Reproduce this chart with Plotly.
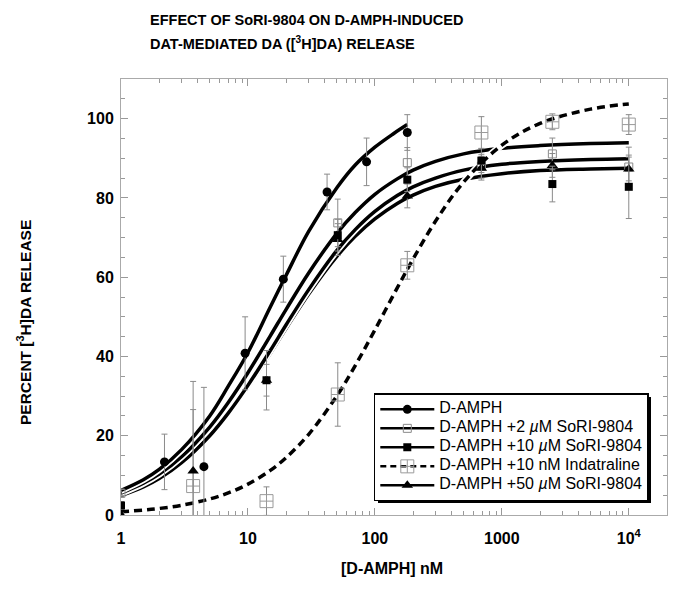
import plotly.graph_objects as go

# ---------------- data ----------------
damph_x = [2.2, 4.5, 9.5, 19, 42, 86, 180]
damph_y = [13.4, 12.2, 40.8, 59.5, 81.5, 89.1, 96.5]
damph_err = [7, 20, 9.2, 5.8, 4.5, 6, 4.5]

sori2_x = [1, 51, 180, 690, 2500, 10000]
sori2_y = [5.5, 73.7, 88.9, 88.0, 91.1, 87.8]
sori2_err = [1, 6, 3.8, 3, 4, 5]

sori10_x = [1, 14, 51, 180, 690, 2500, 10000]
sori10_y = [2.4, 34, 70.6, 84.6, 89.4, 83.5, 82.8]
sori10_err = [1, 4, 4, 3, 3, 4.5, 8]

sori50_x = [1, 3.7, 14, 51, 180, 690, 2500, 10000]
sori50_y = [0, 11.1, 34, 69.5, 80.5, 87.5, 88.2, 87.3]
sori50_err = [0.5, 15.5, 7.5, 4, 3, 3, 3, 3]

indat_x = [3.7, 14, 51, 180, 690, 2500, 10000]
indat_y = [7.3, 3.5, 30.4, 63, 96.5, 99.2, 98.5]
indat_err = [26.4, 3.6, 8, 3.5, 4, 2, 2.5]

# fitted curves
damph_curve_x = [1, 1.5, 2, 3, 5, 7, 10, 15, 20, 30, 50, 70, 100, 140, 180]
damph_curve_y = [6.2, 8.9, 11.5, 16.5, 25, 32.5, 41, 52.5, 60.5, 71.5, 82.5, 88.3, 92.8, 96.2, 98.5]

curve_x = [1, 1.5, 2, 3, 5, 7, 10, 15, 20, 30, 50, 70, 100, 150, 200, 300, 500, 1000, 2000, 5000, 10000]
sori2_curve = [5.5, 8.0, 10.3, 14.7, 22.2, 28.4, 35.9, 45.2, 51.9, 61.0, 71.0, 76.3, 80.9, 84.8, 87.0, 89.2, 91.1, 92.5, 93.2, 93.7, 93.9]
sori10_curve = [4.9, 7.1, 9.2, 13.2, 20.0, 25.7, 32.7, 41.5, 48.0, 56.8, 66.7, 72.0, 76.6, 80.6, 82.8, 85.0, 87.0, 88.5, 89.2, 89.7, 89.9]
sori50_curve = [4.8, 7.0, 9.1, 13.0, 19.7, 25.3, 32.2, 40.8, 47.1, 55.7, 65.2, 70.3, 74.7, 78.6, 80.7, 82.9, 84.7, 86.1, 86.9, 87.3, 87.5]
indat_curve = [0.8, 1.25, 1.65, 2.46, 4.04, 5.57, 7.78, 11.25, 14.48, 20.3, 30.0, 37.7, 46.7, 57.3, 64.6, 74.1, 84.0, 93.3, 98.8, 102.4, 103.7]

x_tickvals = [1, 10, 100, 1000, 10000]
x_ticktext = ["1", "10", "100", "1000", "10<sup>4</sup>"]
y_tickvals = [0, 20, 40, 60, 80, 100]

names = ["D-AMPH",
         "D-AMPH +2 <i>µ</i>M SoRI-9804",
         "D-AMPH +10 <i>µ</i>M SoRI-9804",
         "D-AMPH +10 nM Indatraline",
         "D-AMPH +50 <i>µ</i>M SoRI-9804"]

FONT = "Liberation Sans, Arial, Helvetica, sans-serif"
LW = 3.5

fig = go.Figure()

def curve(x, y, dash="solid"):
    fig.add_trace(go.Scatter(x=x, y=y, mode="lines", line=dict(color="white", width=LW + 3.5, shape="spline"),
                             showlegend=False, hoverinfo="skip"))
    fig.add_trace(go.Scatter(x=x, y=y, mode="lines", line=dict(color="black", width=LW, dash=dash, shape="spline"),
                             showlegend=False, hoverinfo="skip"))

curve(curve_x, sori50_curve)
curve(curve_x, sori10_curve)
curve(curve_x, sori2_curve)
curve(damph_curve_x, damph_curve_y)
curve(curve_x, indat_curve, dash="8px,5px")

EB = dict(type="data", color="#8a8a8a", thickness=1, width=3)

markers = {
    "damph": dict(symbol="circle", size=9, color="black"),
    "s2": dict(symbol="square-open", size=8, color="#8a8a8a", line=dict(width=1)),
    "s10": dict(symbol="square", size=8, color="black"),
    "ind": dict(symbol="square-cross-open", size=13, color="#9a9a9a", line=dict(width=1)),
    "s50": dict(symbol="triangle-up", size=10, color="black"),
}

fig.add_trace(go.Scatter(x=indat_x, y=indat_y, mode="markers", marker=markers["ind"],
                         error_y=dict(array=indat_err, **EB), showlegend=False))
fig.add_trace(go.Scatter(x=sori2_x, y=sori2_y, mode="markers", marker=markers["s2"],
                         error_y=dict(array=sori2_err, **EB), showlegend=False))
fig.add_trace(go.Scatter(x=sori50_x, y=sori50_y, mode="markers", marker=markers["s50"],
                         error_y=dict(array=sori50_err, **EB), showlegend=False))
fig.add_trace(go.Scatter(x=sori10_x, y=sori10_y, mode="markers", marker=markers["s10"],
                         error_y=dict(array=sori10_err, **EB), showlegend=False))
fig.add_trace(go.Scatter(x=damph_x, y=damph_y, mode="markers", marker=markers["damph"],
                         error_y=dict(array=damph_err, **EB), showlegend=False))

# legend entries (text drawn at 16px, rows kept compact via small base legend font)
leg = [("damph", "solid"), ("s2", "solid"), ("s10", "solid"), ("ind", "6px,4px"), ("s50", "solid")]
for (key, dash), nm in zip(leg, names):
    m = dict(markers[key])
    fig.add_trace(go.Scatter(x=[None], y=[None], mode="lines+markers",
                             name='<span style="font-size:16px">' + nm + "</span>",
                             line=dict(color="black", width=2.5, dash=dash), marker=m))

# body has an 8px margin in the page: figure is placed at (8, 8)
# plot area in the page: left 121, right 667, top 79, bottom 515
fig.update_layout(
    width=669, height=581,
    margin=dict(l=113, r=10, t=71, b=74),
    paper_bgcolor="white", plot_bgcolor="white",
    font=dict(family=FONT, color="black"),
    showlegend=True,
    legend=dict(x=0.463, y=0.279, xanchor="left", yanchor="top",
                bgcolor="white", bordercolor="black", borderwidth=1.5,
                font=dict(size=10, family=FONT), itemwidth=54,
                tracegroupgap=0),
    xaxis=dict(type="log", range=[0, 4.301], tickvals=x_tickvals, ticktext=x_ticktext,
               ticks="inside", ticklen=7, tickcolor="#999", showline=True, linecolor="#aaa",
               linewidth=1, mirror="ticks", showgrid=False, zeroline=False,
               ticklabelstandoff=9,
               tickfont=dict(size=16, weight="bold", family=FONT),
               minor=dict(ticks="inside", ticklen=4, dtick="D1", tickcolor="#999", showgrid=False)),
    yaxis=dict(range=[0, 110], tickvals=y_tickvals, ticks="inside", ticklen=7, tickcolor="#999",
               showline=True, linecolor="#aaa", linewidth=1, mirror="ticks", showgrid=False,
               zeroline=False, ticklabelstandoff=3,
               tickfont=dict(size=16, weight="bold", family=FONT),
               minor=dict(ticks="inside", ticklen=4, dtick=5, tickcolor="#999", showgrid=False)),
)

fig.add_annotation(text="<b>EFFECT OF SoRI-9804 ON D-AMPH-INDUCED</b>", xref="paper", yref="paper",
                   x=(148 - 121) / 546, y=(515 - 20) / 436, xanchor="left", yanchor="middle",
                   showarrow=False, font=dict(size=14.5, family=FONT))
fig.add_annotation(text="<b>DAT-MEDIATED DA ([<sup>3</sup>H]DA) RELEASE</b>", xref="paper", yref="paper",
                   x=(148 - 121) / 546, y=(515 - 43) / 436, xanchor="left", yanchor="middle",
                   showarrow=False, font=dict(size=14.5, family=FONT))
fig.add_annotation(text="<b>PERCENT [<sup>3</sup>H]DA RELEASE</b>", xref="paper", yref="paper",
                   x=(24 - 121) / 546, y=(515 - 323) / 436, xanchor="center", yanchor="middle",
                   textangle=-90, showarrow=False, font=dict(size=15.5, family=FONT))
fig.add_annotation(text="<b>[D-AMPH] nM</b>", xref="paper", yref="paper",
                   x=(392 - 121) / 546, y=(515 - 568) / 436, xanchor="center", yanchor="middle",
                   showarrow=False, font=dict(size=16, family=FONT))

# legend drop shadow
fig.add_shape(type="rect", xref="paper", yref="paper",
              x0=(378 - 121) / 546, x1=(651 - 121) / 546,
              y0=(515 - 503) / 436, y1=(515 - 397) / 436,
              fillcolor="black", line=dict(width=0), layer="above")

fig.write_html("out.html")
